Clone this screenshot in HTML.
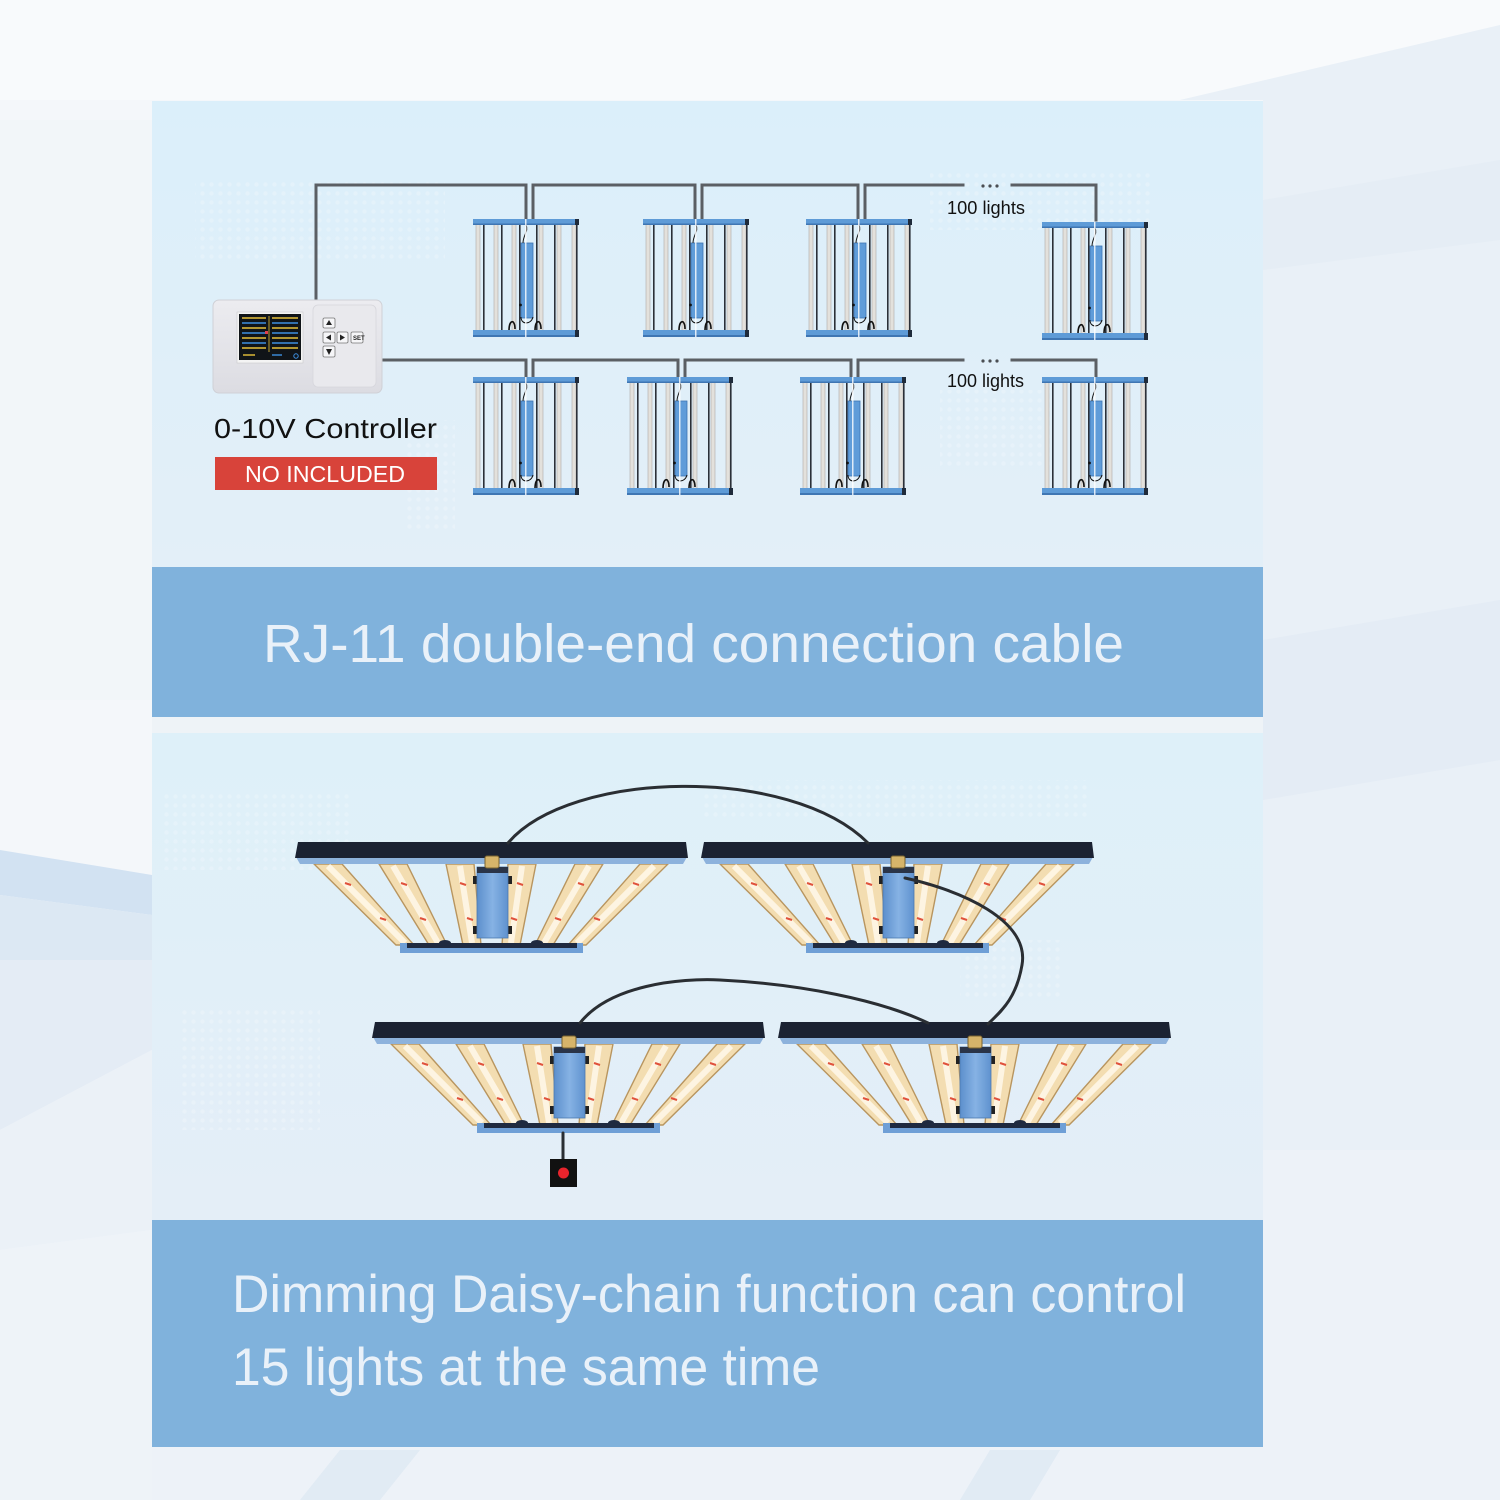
<!DOCTYPE html>
<html><head><meta charset="utf-8"><style>
html,body{margin:0;padding:0;background:#f4f7fa;}
svg{display:block;}
text{font-family:"Liberation Sans",Arial,sans-serif;}
</style></head><body>
<svg width="1500" height="1500" viewBox="0 0 1500 1500" xmlns="http://www.w3.org/2000/svg">
<defs>
  <linearGradient id="p1" x1="0" y1="0" x2="0" y2="1">
    <stop offset="0" stop-color="#dbeffa"/><stop offset="1" stop-color="#e3eff8"/>
  </linearGradient>
  <linearGradient id="p2" x1="0" y1="0" x2="0" y2="1">
    <stop offset="0" stop-color="#def0f9"/><stop offset="1" stop-color="#e4eef7"/>
  </linearGradient>
  <linearGradient id="ctl" x1="0" y1="0" x2="0" y2="1">
    <stop offset="0" stop-color="#ececf0"/><stop offset="1" stop-color="#dcdce2"/>
  </linearGradient>
  <linearGradient id="box" x1="0" y1="0" x2="1" y2="0">
    <stop offset="0" stop-color="#5c8fcc"/><stop offset="0.5" stop-color="#86b2e4"/><stop offset="1" stop-color="#5f92cf"/>
  </linearGradient>
  <pattern id="dots" width="9" height="9" patternUnits="userSpaceOnUse">
    <circle cx="4.5" cy="4.5" r="2.2" fill="#ffffff"/>
  </pattern>

  <g id="vf">
    <rect x="3" y="5" width="4" height="108" fill="#e3e1dc" stroke="#aeaba6" stroke-width="0.6"/>
    <rect x="21" y="5" width="4" height="108" fill="#e3e1dc" stroke="#aeaba6" stroke-width="0.6"/>
    <rect x="39" y="5" width="4" height="108" fill="#e3e1dc" stroke="#aeaba6" stroke-width="0.6"/>
    <rect x="66" y="5" width="4" height="108" fill="#e3e1dc" stroke="#aeaba6" stroke-width="0.6"/>
    <rect x="84" y="5" width="4" height="108" fill="#e3e1dc" stroke="#aeaba6" stroke-width="0.6"/>
    <rect x="99" y="5" width="4" height="108" fill="#e3e1dc" stroke="#aeaba6" stroke-width="0.6"/>
    <rect x="10" y="5" width="1.6" height="108" fill="#2b3038"/>
    <rect x="28" y="5" width="1.6" height="108" fill="#2b3038"/>
    <rect x="46" y="5" width="1.6" height="108" fill="#2b3038"/>
    <rect x="63" y="5" width="1.6" height="108" fill="#2b3038"/>
    <rect x="81" y="5" width="1.6" height="108" fill="#2b3038"/>
    <rect x="103" y="5" width="1.6" height="108" fill="#2b3038"/>
    <rect x="48" y="24" width="12" height="75" fill="#5f9cd9" stroke="#3d74b2" stroke-width="0.8"/>
    <circle cx="47.5" cy="86" r="1.4" fill="#111"/>
    <path d="M53,6 C56,12 50,16 50,24" fill="none" stroke="#1a1a1a" stroke-width="1"/>
    <path d="M36,112 C36,100 42,100 42,110" fill="none" stroke="#111" stroke-width="1.6"/>
    <path d="M48,98 C48,106 58,106 60,98" fill="none" stroke="#111" stroke-width="1"/>
    <path d="M62,112 C62,100 68,100 68,110" fill="none" stroke="#111" stroke-width="1.6"/>
    <rect x="0" y="0" width="105" height="6" fill="#5e9bd7"/>
    <rect x="0" y="4.5" width="105" height="1.5" fill="#3f76b3"/>
    <rect x="102" y="0" width="4" height="6" fill="#1f2b3b"/>
    <rect x="0" y="111" width="105" height="7" fill="#5e9bd7"/>
    <rect x="0" y="116" width="105" height="2" fill="#3f76b3"/>
    <rect x="102" y="111" width="4" height="7" fill="#1f2b3b"/>
    <rect x="52" y="0" width="1.5" height="118" fill="#ffffff" opacity="0.8"/>
  </g>

  <g id="hf">
    <g stroke="#b8955f" stroke-width="1.4" fill="#f3ddb1">
      <polygon points="19,22 47,22 119,103 101,103"/>
      <polygon points="84,22 112,22 152,103 134,103"/>
      <polygon points="151,22 179,22 186,103 168,103"/>
      <polygon points="213,22 241,22 225,103 207,103"/>
      <polygon points="280,22 308,22 258,103 240,103"/>
      <polygon points="345,22 373,22 291,103 273,103"/>
    </g>
    <g stroke="#fff7e8" stroke-width="6" fill="none" opacity="0.9">
      <line x1="33" y1="24" x2="110" y2="101"/>
      <line x1="98" y1="24" x2="143" y2="101"/>
      <line x1="165" y1="24" x2="177" y2="101"/>
      <line x1="227" y1="24" x2="216" y2="101"/>
      <line x1="294" y1="24" x2="249" y2="101"/>
      <line x1="359" y1="24" x2="282" y2="101"/>
    </g>
    <g stroke="#e0523c" stroke-width="2" fill="none">
      <line x1="50" y1="41" x2="56" y2="43"/><line x1="85" y1="76" x2="91" y2="78"/>
      <line x1="106" y1="41" x2="112" y2="43"/><line x1="125" y1="76" x2="131" y2="78"/>
      <line x1="165" y1="41" x2="171" y2="43"/><line x1="172" y1="76" x2="178" y2="78"/>
      <line x1="222" y1="41" x2="228" y2="43"/><line x1="216" y1="76" x2="222" y2="78"/>
      <line x1="283" y1="41" x2="289" y2="43"/><line x1="260" y1="76" x2="266" y2="78"/>
      <line x1="338" y1="41" x2="344" y2="43"/><line x1="299" y1="76" x2="305" y2="78"/>
    </g>
    <rect x="105" y="101" width="183" height="10" fill="#6f9fd6"/>
    <rect x="112" y="101" width="170" height="5" fill="#1f2a40"/>
    <ellipse cx="150" cy="101" rx="6" ry="3" fill="#1f2a40"/>
    <ellipse cx="242" cy="101" rx="6" ry="3" fill="#1f2a40"/>
    <rect x="178" y="34" width="5" height="8" fill="#222"/>
    <rect x="212" y="34" width="5" height="8" fill="#222"/>
    <rect x="178" y="84" width="5" height="8" fill="#222"/>
    <rect x="212" y="84" width="5" height="8" fill="#222"/>
    <rect x="182" y="25" width="31" height="71" fill="url(#box)" stroke="#4a78b0" stroke-width="0.8"/>
    <rect x="182" y="25" width="31" height="6" fill="#2a3448"/>
    <polygon points="5,22 388,22 392,15 1,15" fill="#8db2dc"/>
    <polygon points="3,0 391,0 393,16 0,16" fill="#1b2232"/>
    <rect x="190" y="14" width="14" height="12" rx="2" fill="#d6b46a" stroke="#7a6330" stroke-width="1"/>
  </g>
</defs>

<rect x="0" y="0" width="1500" height="1500" fill="#f4f7fa"/>
<polygon points="0,0 1500,0 1500,30 1180,100 0,100" fill="#f8fafc"/>
<polygon points="1180,100 1500,25 1500,1500 1263,1500 1263,100" fill="#e9f0f7"/>
<polygon points="1263,200 1500,160 1500,240 1263,270" fill="#e3ebf4" opacity="0.7"/>
<polygon points="1263,640 1500,600 1500,760 1263,800" fill="#e1e9f3" opacity="0.7"/>
<polygon points="1263,1150 1500,1150 1500,1500 1263,1500" fill="#edf2f8" opacity="0.8"/>
<polygon points="0,120 152,120 152,700 0,700" fill="#f2f6f9"/>
<polygon points="0,850 152,875 152,915 0,895" fill="#d2e2f2"/>
<polygon points="0,895 152,915 152,960 0,960" fill="#dce8f3"/>
<polygon points="0,960 152,960 152,1050 0,1130" fill="#e4ecf5"/>
<polygon points="0,1130 152,1050 152,1230 0,1250" fill="#ebf1f7"/>
<polygon points="0,1250 152,1230 152,1500 0,1500" fill="#eef3f8"/>
<polygon points="152,1447 1263,1447 1263,1500 152,1500" fill="#edf2f8"/>
<polygon points="300,1500 340,1450 420,1450 380,1500" fill="#dde8f3" opacity="0.8"/>
<polygon points="960,1500 990,1450 1060,1450 1030,1500" fill="#dde8f3" opacity="0.8"/>

<rect x="152" y="101" width="1111" height="466" fill="url(#p1)"/>
<rect x="152" y="717" width="1111" height="16" fill="#eef3f7"/>
<rect x="152" y="733" width="1111" height="487" fill="url(#p2)"/>

<g opacity="0.2">
  <rect x="195" y="180" width="250" height="80" fill="url(#dots)"/>
  <rect x="405" y="420" width="50" height="110" fill="url(#dots)"/>
  <rect x="930" y="170" width="220" height="60" fill="url(#dots)"/>
  <rect x="940" y="390" width="110" height="80" fill="url(#dots)"/>
  <rect x="160" y="790" width="190" height="80" fill="url(#dots)"/>
  <rect x="700" y="780" width="390" height="40" fill="url(#dots)"/>
  <rect x="180" y="1010" width="140" height="120" fill="url(#dots)"/>
  <rect x="960" y="940" width="100" height="60" fill="url(#dots)"/>
</g>

<rect x="152" y="567" width="1111" height="150" fill="#80b2dc"/>
<rect x="152" y="1220" width="1111" height="227" fill="#80b2dc"/>
<text x="263" y="662" font-size="54" fill="#e9f1f9" textLength="861" lengthAdjust="spacingAndGlyphs">RJ-11 double-end connection cable</text>
<text x="232" y="1312" font-size="53" fill="#e9f1f9" textLength="954" lengthAdjust="spacingAndGlyphs">Dimming Daisy-chain function can control</text>
<text x="232" y="1385" font-size="53" fill="#e9f1f9" textLength="588" lengthAdjust="spacingAndGlyphs">15 lights at the same time</text>

<g stroke="#5b5f64" stroke-width="3" fill="none" stroke-linecap="square">
  <polyline points="316,300 316,185 526,185 526,220"/>
  <polyline points="533,220 533,185 695,185 695,220"/>
  <polyline points="702,220 702,185 858,185 858,220"/>
  <polyline points="865,220 865,185 963,185"/>
  <polyline points="1012,185 1096,185 1096,220"/>
  <polyline points="382,360 526,360 526,378"/>
  <polyline points="533,378 533,360 678,360 678,378"/>
  <polyline points="685,378 685,360 851,360 851,378"/>
  <polyline points="858,378 858,360 963,360"/>
  <polyline points="1012,360 1096,360 1096,378"/>
</g>
<g fill="#4a4e53">
  <circle cx="983" cy="186" r="1.6"/><circle cx="990" cy="186" r="1.6"/><circle cx="997" cy="186" r="1.6"/>
  <circle cx="983" cy="361" r="1.6"/><circle cx="990" cy="361" r="1.6"/><circle cx="997" cy="361" r="1.6"/>
</g>
<text x="947" y="214" font-size="18" fill="#111" textLength="78" lengthAdjust="spacingAndGlyphs">100 lights</text>
<text x="947" y="387" font-size="18" fill="#111" textLength="77" lengthAdjust="spacingAndGlyphs">100 lights</text>

<use href="#vf" x="473" y="219"/>
<use href="#vf" x="643" y="219"/>
<use href="#vf" x="806" y="219"/>
<use href="#vf" x="1042" y="222"/>
<use href="#vf" x="473" y="377"/>
<use href="#vf" x="627" y="377"/>
<use href="#vf" x="800" y="377"/>
<use href="#vf" x="1042" y="377"/>

<rect x="213" y="300" width="169" height="93" rx="6" fill="url(#ctl)" stroke="#cfd0d6" stroke-width="1"/>
<rect x="313" y="305" width="63" height="82" rx="5" fill="#e9e9ed" stroke="#d6d6dc" stroke-width="0.8"/>
<rect x="237" y="312" width="66" height="51" fill="#f4f4f4" stroke="#c8c8cc" stroke-width="0.6"/>
<rect x="239" y="314" width="62" height="46" fill="#101418"/>
<g stroke-width="1.4">
  <line x1="242" y1="318" x2="266" y2="318" stroke="#e8c23a"/><line x1="272" y1="318" x2="298" y2="318" stroke="#e8c23a"/>
  <line x1="242" y1="323" x2="266" y2="323" stroke="#3d8fe0"/><line x1="272" y1="323" x2="298" y2="323" stroke="#3d8fe0"/>
  <line x1="242" y1="328" x2="266" y2="328" stroke="#e8c23a"/><line x1="272" y1="328" x2="298" y2="328" stroke="#e8c23a"/>
  <line x1="242" y1="333" x2="266" y2="333" stroke="#3d8fe0"/><line x1="272" y1="333" x2="298" y2="333" stroke="#3d8fe0"/>
  <line x1="242" y1="338" x2="266" y2="338" stroke="#e8c23a"/><line x1="272" y1="338" x2="298" y2="338" stroke="#e8c23a"/>
  <line x1="242" y1="343" x2="266" y2="343" stroke="#3d8fe0"/><line x1="272" y1="343" x2="298" y2="343" stroke="#3d8fe0"/>
  <line x1="242" y1="348" x2="266" y2="348" stroke="#e8c23a"/><line x1="272" y1="348" x2="298" y2="348" stroke="#e8c23a"/>
  <line x1="243" y1="355" x2="255" y2="355" stroke="#e8c23a"/><line x1="272" y1="355" x2="282" y2="355" stroke="#3d8fe0"/>
</g>
<line x1="269" y1="316" x2="269" y2="352" stroke="#e8c23a" stroke-width="0.8"/>
<rect x="265" y="331" width="3" height="3" fill="#e04050"/>
<circle cx="296" cy="356" r="2.2" fill="none" stroke="#3d8fe0" stroke-width="1"/>
<g fill="#f6f6f8" stroke="#777" stroke-width="0.8">
  <rect x="323" y="318" width="12" height="10" rx="1.5"/>
  <rect x="323" y="332" width="12" height="11" rx="1.5"/>
  <rect x="337" y="332" width="11" height="11" rx="1.5"/>
  <rect x="351" y="332" width="12" height="11" rx="1.5"/>
  <rect x="323" y="346" width="12" height="11" rx="1.5"/>
</g>
<g fill="#222">
  <polygon points="329,320 332,325 326,325"/>
  <polygon points="326,337.5 331,334.5 331,340.5"/>
  <polygon points="345,337.5 340,334.5 340,340.5"/>
  <polygon points="329,355 332,349 326,349"/>
</g>
<text x="353" y="340" font-size="6" fill="#222" font-weight="bold">SET</text>

<text x="214" y="438" font-size="28" fill="#111" textLength="223" lengthAdjust="spacingAndGlyphs">0-10V Controller</text>
<rect x="215" y="457" width="222" height="33" fill="#d8433a"/>
<text x="245" y="482" font-size="23" fill="#ffffff" textLength="160" lengthAdjust="spacingAndGlyphs">NO INCLUDED</text>

<use href="#hf" x="295" y="842"/>
<use href="#hf" x="701" y="842"/>
<use href="#hf" x="372" y="1022"/>
<use href="#hf" x="778" y="1022"/>

<g stroke="#2a2e33" stroke-width="3" fill="none" stroke-linecap="round">
  <path d="M508,843 C570,770 790,765 868,843"/>
  <path d="M905,878 C960,890 1030,920 1022,965 C1016,1000 1000,1012 988,1024"/>
  <path d="M580,1023 C610,985 680,978 720,980 C800,984 880,1000 928,1023"/>
  <path d="M563,1133 L563,1160"/>
</g>
<rect x="550" y="1159" width="27" height="28" fill="#111"/>
<circle cx="563.5" cy="1173" r="5.5" fill="#e8242c"/>
</svg>
</body></html>
